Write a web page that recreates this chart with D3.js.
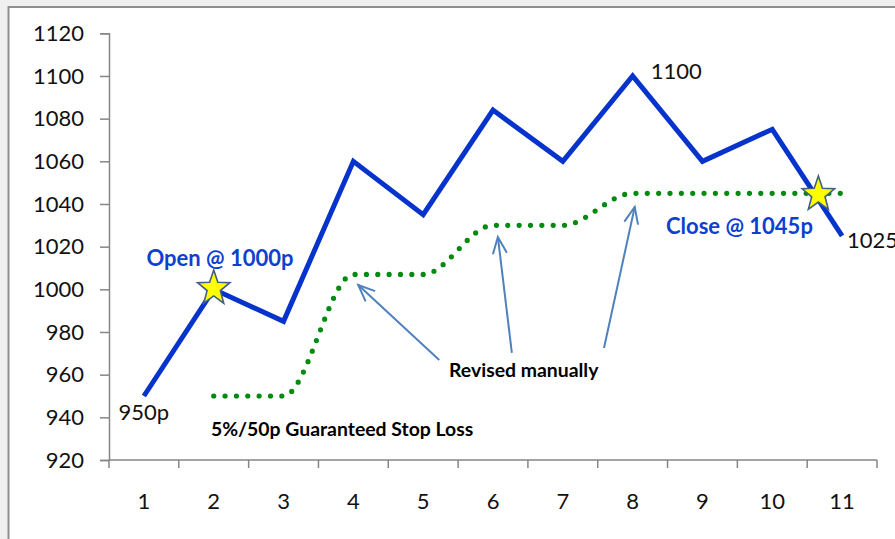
<!DOCTYPE html>
<html>
<head>
<meta charset="utf-8">
<script src="https://cdn.jsdelivr.net/npm/d3@7"></script>
<style>
  html, body { margin: 0; padding: 0; background: #f0f0f0; }
  svg { display: block; }
</style>
</head>
<body>
<svg id="chart" width="895" height="539"></svg>
<script>
// ---- data ----
const categories = ["1","2","3","4","5","6","7","8","9","10","11"];
const priceValues = [950, 1000, 985, 1060, 1035, 1084, 1060, 1100, 1060, 1075, 1025];
const stopLossValues = [null, 950, 950, 1007, 1007, 1030, 1030, 1045, 1045, 1045, 1045];
const yTicks = [920, 940, 960, 980, 1000, 1020, 1040, 1060, 1080, 1100, 1120];
const yDomain = [920, 1120];

// markers: position in category units (1..11) and value
const starPoints = [ {c: 2, v: 1000}, {c: 10.66, v: 1044} ];

// text annotations anchored in data units
const valueLabels = [
  {text: "950p", c: 1.0, v: 938.7, anchor: "middle"},
  {text: "1100", c: 8.26, v: 1098.6, anchor: "start"},
  {text: "1025", c: 11.07, v: 1019.6, anchor: "start"}
];
const blueLabels = [
  {text: "Open @ 1000p", c: 2.09, v: 1011},
  {text: "Close @ 1045p", c: 9.53, v: 1025.9}
];
const noteLabels = [
  {text: "Revised manually", c: 6.44, v: 959, anchor: "middle"},
  {text: "5%/50p  Guaranteed Stop Loss", c: 1.96, v: 931.2, anchor: "start"}
];
const arrows = [
  {from: {c: 5.23, v: 966.9}, to: {c: 4.07, v: 1002}},
  {from: {c: 6.27, v: 970.2}, to: {c: 6.07, v: 1024.5}},
  {from: {c: 7.59, v: 972.5}, to: {c: 8.03, v: 1038.6}}
];

// ---- drawing ----
const svg = d3.select("#chart");
const W = 895, H = 539;
const plot = {left: 109, right: 877, top: 33.3, bottom: 460};

svg.append("rect").attr("width", W).attr("height", H).attr("fill", "#f0f0f0");
svg.append("rect").attr("x", 8.5).attr("y", 7).attr("width", 1000).attr("height", 1000)
  .attr("fill", "#ffffff").attr("stroke", "#8e8e8e").attr("stroke-width", 2);

const xBand = d3.scaleBand().domain(categories).range([plot.left, plot.right]).padding(0);
const bw = xBand.bandwidth();
const xc = d => xBand(d) + bw / 2;
const xLin = d3.scaleLinear().domain([1, categories.length])
  .range([xc(categories[0]), xc(categories[categories.length - 1])]);
const y = d3.scaleLinear().domain(yDomain).range([plot.bottom, plot.top]);

const axisColor = "#868686";
const tickFont = "Lato, 'Open Sans', sans-serif";

// y axis
const gy = svg.append("g").attr("transform", `translate(${plot.left},0)`)
  .call(d3.axisLeft(y).tickValues(yTicks).tickSize(9).tickPadding(16).tickFormat(d3.format("d")));
gy.select(".domain").attr("stroke", axisColor).attr("stroke-width", 1.5);
gy.selectAll(".tick line").attr("stroke", axisColor).attr("stroke-width", 1.5);
gy.selectAll(".tick text").attr("font-family", tickFont).attr("font-size", 22).attr("fill", "#111");

// x axis: tick marks at band boundaries, labels at band centers
const boundaries = categories.map(c => xBand(c)).concat([plot.right]);
const gx = svg.append("g").attr("transform", `translate(0,${plot.bottom})`);
gx.append("line").attr("x1", plot.left).attr("x2", plot.right).attr("y1", 0).attr("y2", 0)
  .attr("stroke", axisColor).attr("stroke-width", 1.5);
gx.selectAll("line.tk").data(boundaries).join("line").attr("class", "tk")
  .attr("x1", d => d).attr("x2", d => d).attr("y1", 0).attr("y2", 8)
  .attr("stroke", axisColor).attr("stroke-width", 1.5);
const gxl = svg.append("g").attr("transform", `translate(0,${plot.bottom})`)
  .call(d3.axisBottom(xBand).tickSize(0).tickPadding(33));
gxl.select(".domain").remove();
gxl.selectAll(".tick text").attr("font-family", tickFont).attr("font-size", 22).attr("fill", "#111");

// stop loss dotted smooth line
const stopLine = d3.line()
  .defined(d => d.v != null)
  .x(d => xc(d.c)).y(d => y(d.v))
  .curve(d3.curveMonotoneX);
svg.append("path")
  .datum(categories.map((c, i) => ({c, v: stopLossValues[i]})))
  .attr("d", stopLine)
  .attr("fill", "none").attr("stroke", "#008a0e").attr("stroke-width", 5.2)
  .attr("stroke-linecap", "round").attr("stroke-dasharray", "0 11.35");

// price line
const priceLine = d3.line().x(d => xc(d.c)).y(d => y(d.v));
svg.append("path")
  .datum(categories.map((c, i) => ({c, v: priceValues[i]})))
  .attr("d", priceLine)
  .attr("fill", "none").attr("stroke", "#0533cc").attr("stroke-width", 5)
  .attr("stroke-linejoin", "miter").attr("stroke-linecap", "butt");

// arrows
const arrowColor = "#4f81bd";
arrows.forEach(a => {
  const x1 = xLin(a.from.c), y1 = y(a.from.v), x2 = xLin(a.to.c), y2 = y(a.to.v);
  const ang = Math.atan2(y1 - y2, x1 - x2);
  const len = 18, spread = 0.4;
  const g = svg.append("g").attr("stroke", arrowColor).attr("stroke-width", 2).attr("fill", "none")
    .attr("stroke-linecap", "butt");
  g.append("line").attr("x1", x1).attr("y1", y1).attr("x2", x2).attr("y2", y2);
  g.append("path").attr("d",
    `M${x2 + len * Math.cos(ang - spread)},${y2 + len * Math.sin(ang - spread)}L${x2},${y2}L${x2 + len * Math.cos(ang + spread)},${y2 + len * Math.sin(ang + spread)}`)
    .attr("stroke-linejoin", "miter");
});

// stars
function starPath(cx, cy, R, r, sy) {
  const pts = [];
  for (let i = 0; i < 10; i++) {
    const rad = i % 2 === 0 ? R : r;
    const a = -Math.PI / 2 + i * Math.PI / 5;
    pts.push([cx + rad * Math.cos(a), cy + rad * Math.sin(a) * sy]);
  }
  return "M" + pts.map(p => p.join(",")).join("L") + "Z";
}
svg.selectAll("path.star").data(starPoints).join("path").attr("class", "star")
  .attr("d", d => starPath(xLin(d.c), y(d.v) - 1, 17, 7, 1.08))
  .attr("fill", "#ffff00").attr("stroke", "#3f5f86").attr("stroke-width", 1.6)
  .attr("stroke-linejoin", "miter");

// value labels
svg.selectAll("text.val").data(valueLabels).join("text").attr("class", "val")
  .attr("x", d => xLin(d.c)).attr("y", d => y(d.v))
  .attr("text-anchor", d => d.anchor)
  .attr("font-family", tickFont).attr("font-size", 22).attr("fill", "#111")
  .text(d => d.text);

// blue bold labels
svg.selectAll("text.blue").data(blueLabels).join("text").attr("class", "blue")
  .attr("x", d => xLin(d.c)).attr("y", d => y(d.v))
  .attr("text-anchor", "middle")
  .attr("font-family", tickFont).attr("font-weight", "bold").attr("font-size", 22)
  .attr("fill", "#0f3fcf")
  .text(d => d.text);

// note labels
svg.selectAll("text.note").data(noteLabels).join("text").attr("class", "note")
  .attr("x", d => xLin(d.c)).attr("y", d => y(d.v))
  .attr("text-anchor", d => d.anchor)
  .attr("font-family", tickFont).attr("font-weight", "bold").attr("font-size", 19.4)
  .attr("fill", "#000")
  .text(d => d.text);
</script>
</body>
</html>
